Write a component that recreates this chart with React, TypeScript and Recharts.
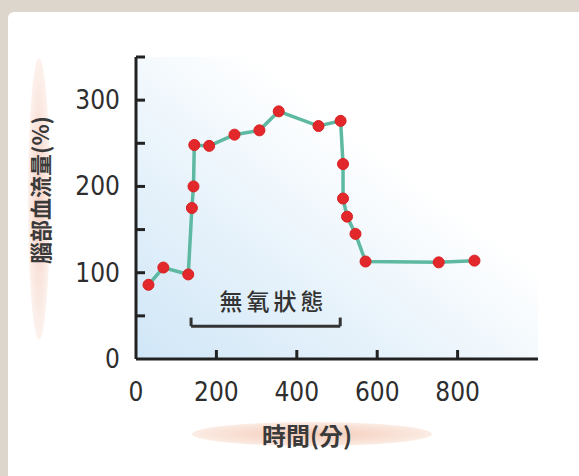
import React from 'react';
import {
  LineChart, Line, XAxis, YAxis, ReferenceArea, ReferenceLine, ReferenceDot,
} from 'recharts';

// time (min) vs cerebral blood flow (%)
const minutes = [31, 68, 130, 139, 143, 145, 182, 245, 307, 355, 454, 509, 515, 515, 525, 546, 571, 753, 842];
const flow = [86, 106, 98, 175, 200, 248, 247, 260, 265, 287, 270, 276, 226, 186, 165, 145, 113, 112, 114];

const xTicks = [0, 200, 400, 600, 800];
const yTicks = [0, 50, 100, 150, 200, 250, 300, 350];
const yLabelled = [0, 100, 200, 300];

// anoxia bracket (x from / to, bar height, tip height, label point)
const anoxiaX = [137, 508];
const anoxiaY = [38, 48];
const anoxiaLabelAt = { x: 342, y: 66 };

const data = minutes.map((m, i) => ({ t: m, v: flow[i] }));

const tickStyle: React.CSSProperties = {
  fontFamily: '"DejaVu Sans", sans-serif',
  fontStretch: 'condensed',
  fontSize: 26,
};
const cjkFont = '"Noto Sans CJK TC", "Noto Sans CJK SC", sans-serif';

const XTick = (props: any) => {
  const { x, y, payload } = props;
  return (
    <g>
      {payload.value !== 0 && <line x1={x} y1={y} x2={x} y2={y - 9} stroke="#222" strokeWidth={3} />}
      <text x={x} y={y + 42} textAnchor="middle" style={tickStyle} fill="#2e2e2e">
        {payload.value}
      </text>
    </g>
  );
};

const YTick = (props: any) => {
  const { x, y, payload } = props;
  return (
    <g>
      {payload.value !== 0 && <line x1={x} y1={y} x2={x + 9} y2={y} stroke="#222" strokeWidth={3} />}
      {yLabelled.includes(payload.value) && (
        <text x={x - 16} y={y + 9} textAnchor="end" style={tickStyle} fill="#2e2e2e">
          {payload.value}
        </text>
      )}
    </g>
  );
};

export default function App() {
  return (
    <div style={{ position: 'absolute', left: 0, top: 0, width: 579, height: 476, background: '#ddd6cd', overflow: 'hidden' }}>
      <div style={{ position: 'absolute', left: 8, top: 12, width: 571, height: 464, background: '#fff', borderTopLeftRadius: 6 }} />
      {/* axis title backgrounds */}
      <div style={{
        position: 'absolute', left: 28, top: 58, width: 22, height: 282, borderRadius: '50%',
        background: 'radial-gradient(ellipse at center, rgba(240,180,160,0.6) 0%, rgba(245,205,190,0.4) 55%, rgba(255,255,255,0) 100%)',
      }} />
      <div style={{
        position: 'absolute', left: 192, top: 422, width: 240, height: 24, borderRadius: '50%',
        background: 'radial-gradient(ellipse at center, rgba(240,185,160,0.75) 0%, rgba(245,205,185,0.5) 60%, rgba(255,255,255,0) 100%)',
      }} />
      <div style={{
        position: 'absolute', left: 39 - 110, top: 190 - 16, width: 220, height: 32, lineHeight: '32px',
        textAlign: 'center', transform: 'rotate(-90deg)', fontFamily: cjkFont, fontSize: 22, fontWeight: 700, color: '#3a3a3a',
      }}>
        腦部血流量(%)
      </div>
      <div style={{
        position: 'absolute', left: 207, top: 418, width: 200, height: 34, lineHeight: '34px',
        textAlign: 'center', fontFamily: cjkFont, fontSize: 24, fontWeight: 700, color: '#3a3a3a',
      }}>
        時間(分)
      </div>
      <div style={{ position: 'absolute', left: 0, top: 0 }}>
        <LineChart width={579} height={476} data={data} margin={{ top: 57, right: 41, bottom: 57, left: 76 }}>
          <defs>
            <linearGradient id="plotBg" x1="0" y1="1" x2="1" y2="0">
              <stop offset="0%" stopColor="#d0e6f7" />
              <stop offset="35%" stopColor="#e8f3fb" />
              <stop offset="65%" stopColor="#ffffff" />
              <stop offset="100%" stopColor="#ffffff" />
            </linearGradient>
          </defs>
          <ReferenceArea x1={0} x2={1000} y1={0} y2={350} fill="url(#plotBg)" fillOpacity={1} stroke="none" />
          <XAxis
            dataKey="t"
            type="number"
            domain={[0, 1000]}
            ticks={xTicks}
            tickSize={0}
            tickMargin={0}
            tickLine={false}
            tick={<XTick />}
            axisLine={{ stroke: '#222', strokeWidth: 3 }}
            height={60}
            interval={0}
          />
          <YAxis
            type="number"
            domain={[0, 350]}
            ticks={yTicks}
            tickSize={0}
            tickMargin={0}
            tickLine={false}
            tick={<YTick />}
            axisLine={{ stroke: '#222', strokeWidth: 3 }}
            width={60}
            interval={0}
          />
          <ReferenceLine
            segment={[{ x: anoxiaX[0], y: anoxiaY[0] }, { x: anoxiaX[1], y: anoxiaY[0] }]}
            stroke="#333" strokeWidth={3}
          />
          <ReferenceLine
            segment={[{ x: anoxiaX[0], y: anoxiaY[0] }, { x: anoxiaX[0], y: anoxiaY[1] }]}
            stroke="#333" strokeWidth={3}
          />
          <ReferenceLine
            segment={[{ x: anoxiaX[1], y: anoxiaY[0] }, { x: anoxiaX[1], y: anoxiaY[1] }]}
            stroke="#333" strokeWidth={3}
          />
          <ReferenceDot
            x={anoxiaLabelAt.x}
            y={anoxiaLabelAt.y}
            r={0}
            stroke="none"
            label={{ value: '無氧狀態', position: 'center', fontSize: 23, fill: '#333', fontFamily: cjkFont, fontWeight: 500, letterSpacing: 4 }}
          />
          <Line
            type="linear"
            dataKey="v"
            stroke="#5db9a1"
            strokeWidth={3.5}
            dot={{ r: 5.5, fill: '#e3282b', stroke: '#d81f22', strokeWidth: 1 }}
            isAnimationActive={false}
          />
        </LineChart>
      </div>
    </div>
  );
}
